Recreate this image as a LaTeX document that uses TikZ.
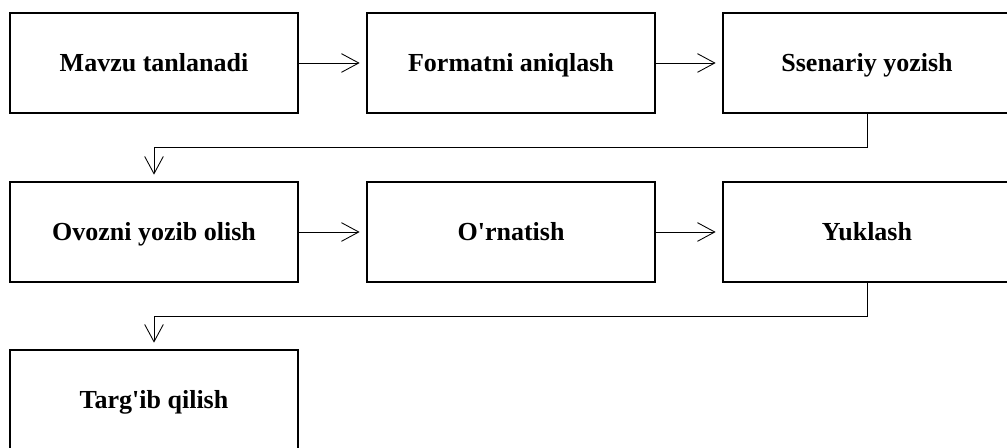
\documentclass[tikz,border=0pt]{standalone}
\usepackage{fontspec}
\setmainfont{Liberation Serif}[Ligatures=TeXOff]
\usetikzlibrary{arrows.meta}
\begin{document}
\begin{tikzpicture}[x=0.75pt,y=-0.75pt,
  stepbox/.style={draw=black,line width=1.6pt,minimum width=288*0.75pt,minimum height=100*0.75pt,
    inner sep=0pt,outer sep=0pt,text height=13.2pt,text depth=0pt,
    font=\fontsize{19.5pt}{22pt}\selectfont\bfseries,anchor=north west},
  conn/.style={draw=black,line width=0.65pt,-{Straight Barb[length=13pt,width=14pt,line width=0.65pt]},shorten >=5.5pt}]
\useasboundingbox (0,0) rectangle (1007,448);
\clip (0,0) rectangle (1007,448);
\node[stepbox] (a) at (10,13) {Mavzu tanlanadi};
\node[stepbox] (b) at (367,13) {Formatni aniqlash};
\node[stepbox] (c) at (723,13) {Ssenariy yozish};
\node[stepbox] (d) at (10,182) {Ovozni yozib olish};
\node[stepbox] (e) at (367,182) {O'rnatish};
\node[stepbox] (f) at (723,182) {Yuklash};
\node[stepbox] (g) at (10,350) {Targ'ib qilish};
\coordinate (c1) at ([yshift=-34*0.75pt]c.south);
\coordinate (c2) at (d.north |- c1);
\coordinate (f1) at ([yshift=-34*0.75pt]f.south);
\coordinate (f2) at (g.north |- f1);
\draw[conn] (a.east) -- (b.west);
\draw[conn] (b.east) -- (c.west);
\draw[conn] (c.south) -- (c1) -- (c2) -- (d.north);
\draw[conn] (d.east) -- (e.west);
\draw[conn] (e.east) -- (f.west);
\draw[conn] (f.south) -- (f1) -- (f2) -- (g.north);
\end{tikzpicture}
\end{document}
